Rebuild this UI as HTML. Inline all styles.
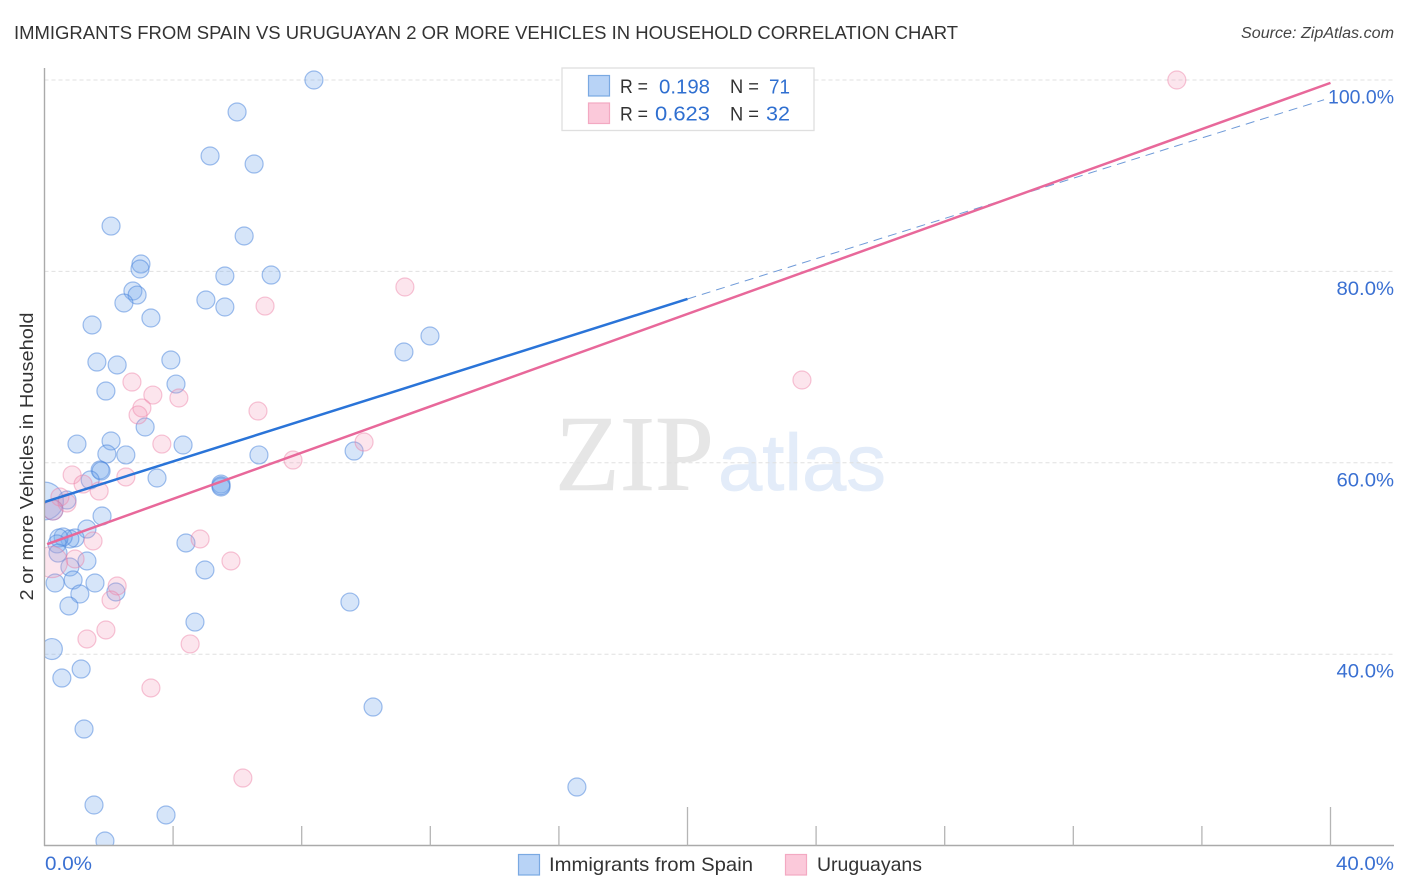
<!DOCTYPE html>
<html lang="en">
<head>
<meta charset="utf-8">
<title>Immigrants from Spain vs Uruguayan 2 or more Vehicles in Household Correlation Chart</title>
<style>
html,body{margin:0;padding:0;background:#fff;width:1406px;height:892px;overflow:hidden}
svg{display:block;font-family:"Liberation Sans",sans-serif}
</style>
</head>
<body>
<svg id="chart" xmlns="http://www.w3.org/2000/svg" width="1406" height="892" viewBox="0 0 1406 892">
  <defs>
    <clipPath id="plot-clip"><rect x="45" y="60" width="1350" height="785.5"/></clipPath>
  </defs>
  <text x="14" y="39" font-size="18.5" fill="#333" textLength="944" lengthAdjust="spacingAndGlyphs">IMMIGRANTS FROM SPAIN VS URUGUAYAN 2 OR MORE VEHICLES IN HOUSEHOLD CORRELATION CHART</text>
  <text x="1394" y="38" font-size="15.5" font-style="italic" fill="#444" text-anchor="end" textLength="153" lengthAdjust="spacingAndGlyphs">Source: ZipAtlas.com</text>

  <g>
    <text x="555" y="490" font-family="'Liberation Serif',serif" font-size="108" fill="#e6e6e6" stroke="#e6e6e6" stroke-width="0.6" textLength="159" lengthAdjust="spacingAndGlyphs">ZIP</text>
    <text x="718" y="490" font-family="'Liberation Sans',sans-serif" font-size="80" fill="#e3ecf9" stroke="#e3ecf9" stroke-width="0.8" textLength="168" lengthAdjust="spacingAndGlyphs">atlas</text>
  </g>

  <g id="grid"></g>
  <g id="points" clip-path="url(#plot-clip)"></g>
  <g id="trends"></g>
  <g id="axes"></g>

  <text transform="translate(33,456.5) rotate(-90)" font-size="18.5" fill="#333" text-anchor="middle" textLength="288" lengthAdjust="spacingAndGlyphs">2 or more Vehicles in Household</text>

  <g>
    <rect x="562" y="68" width="252" height="62.5" fill="#fff" stroke="#dfdfdf" stroke-width="1.3"/>
    <rect x="588.5" y="75.5" width="21" height="20.5" fill="#b8d3f6" stroke="#7aa9e2" stroke-width="1.2"/>
    <rect x="588.5" y="103" width="21" height="20.5" fill="#fbc9da" stroke="#f3a9c2" stroke-width="1.2"/>
    <text x="620" y="93" font-size="19" fill="#333" textLength="28" lengthAdjust="spacingAndGlyphs">R =</text>
    <text x="659" y="93.5" font-size="20.5" fill="#2f6fd0" textLength="51" lengthAdjust="spacingAndGlyphs">0.198</text>
    <text x="730" y="93" font-size="19" fill="#333" textLength="29" lengthAdjust="spacingAndGlyphs">N =</text>
    <text x="769" y="93.5" font-size="20.5" fill="#2f6fd0" textLength="21" lengthAdjust="spacingAndGlyphs">71</text>
    <text x="620" y="120.5" font-size="19" fill="#333" textLength="28" lengthAdjust="spacingAndGlyphs">R =</text>
    <text x="655" y="120.5" font-size="20.5" fill="#2f6fd0" textLength="55" lengthAdjust="spacingAndGlyphs">0.623</text>
    <text x="730" y="120.5" font-size="19" fill="#333" textLength="29" lengthAdjust="spacingAndGlyphs">N =</text>
    <text x="766" y="120.5" font-size="20.5" fill="#2f6fd0" textLength="24" lengthAdjust="spacingAndGlyphs">32</text>
  </g>

  <g>
    <rect x="518.5" y="854.5" width="21" height="20.5" fill="#b8d3f6" stroke="#7aa9e2" stroke-width="1.2"/>
    <text x="549" y="871" font-size="19.5" fill="#333" textLength="204" lengthAdjust="spacingAndGlyphs">Immigrants from Spain</text>
    <rect x="785.5" y="854.5" width="21" height="20.5" fill="#fbc9da" stroke="#f3a9c2" stroke-width="1.2"/>
    <text x="817" y="871" font-size="19.5" fill="#333" textLength="105" lengthAdjust="spacingAndGlyphs">Uruguayans</text>
  </g>
</svg>
<script>
const spainX = [8.38,5.99,5.15,6.52,2.07,6.21,3.00,2.97,5.61,7.05,2.75,2.88,2.47,5.02,5.61,3.31,1.48,11.99,11.18,1.63,3.93,2.26,1.91,4.09,3.13,1.01,2.07,4.31,1.94,2.53,6.67,9.63,1.73,1.76,3.50,1.42,5.49,5.49,5.49,0.70,0.00,0.26,1.79,1.32,0.95,0.79,0.58,0.45,0.39,0.42,4.40,1.32,4.99,0.79,0.89,0.33,1.57,2.22,1.10,0.76,9.50,4.68,0.23,1.14,0.54,10.22,1.23,16.56,1.54,3.78,1.88];
const spainY = [100,96.66,92.06,91.22,84.74,83.70,80.77,80.25,79.52,79.62,77.95,77.53,76.70,77.01,76.28,75.13,74.40,73.25,71.58,70.53,70.74,70.22,67.50,68.23,63.74,61.96,62.28,61.86,60.92,60.82,60.82,61.23,59.25,59.14,58.41,58.20,57.78,57.47,57.60,56.11,56.01,55.07,54.44,53.08,52.14,52.04,52.25,52.14,51.52,50.57,51.62,49.74,48.80,49.11,47.75,47.44,47.44,46.50,46.29,45.04,45.45,43.36,40.54,38.45,37.51,34.48,32.18,26.12,24.24,23.20,20.48];
const spainWeight = [1,1,1,1,1,1,1,1,1,1,1,1,1,1,1,1,1,1,1,1,1,1,1,1,1,1,1,1,1,1,1,1,1,1,1,1,1,1,1,1,4.4,1.25,1,1,1,1,1,1,1,1,1,1,1,1,1,1,1,1,1,1,1,1,1.35,1,1,1,1,1,1,1,1];

const uruguayX = [0.86,1.20,1.70,2.53,0.48,0.70,0.26,1.51,0.95,0.23,2.26,2.07,1.91,1.32,4.53,4.84,5.80,3.31,35.22,11.21,6.86,23.56,2.72,3.37,4.18,3.03,2.91,6.64,3.65,9.94,7.73,6.17];
const uruguayY = [58.73,57.78,57.05,58.52,56.43,55.80,55.07,51.83,49.95,49.63,47.13,45.66,42.53,41.59,41.07,52.04,49.74,36.47,100,78.37,76.38,68.65,68.44,67.08,66.77,65.73,65.00,65.41,61.96,62.17,60.29,27.06];
const uruguayWeight = [1,1,1,1,1,1,1.25,1,1,3,1,1,1,1,1,1,1,1,1,1,1,1,1,1,1,1,1,1,1,1,1,1];

const spainTrendX = [0, 20];
const spainTrendY = [55.9, 77.12];
const spainDashX = [20, 39.8];
const spainDashY = [77.12, 97.94];
const uruguayTrendX = [0.08, 40];
const uruguayTrendY = [51.5, 99.7];

const yTicks = [100, 80, 60, 40];
const yTickLabels = ["100.0%", "80.0%", "60.0%", "40.0%"];
const xTicks = [0,4,8,12,16,20,24,28,32,36,40];
const xTickLabels = ["0.0%", "40.0%"];

const NS = 'http://www.w3.org/2000/svg';
const xScale = v => 44.5 + v * 32.15;
const yScale = v => 80 + (100 - v) * 9.57;
const mk = (tag, parent, attrs) => {
  const el = document.createElementNS(NS, tag);
  for (const k in attrs) el.setAttribute(k, attrs[k]);
  parent.appendChild(el);
  return el;
};

const grid = document.getElementById('grid');
const axes = document.getElementById('axes');
const points = document.getElementById('points');
const trends = document.getElementById('trends');

yTicks.forEach((t, i) => {
  const line = mk('line', grid, {x1: 44.5, x2: 1394, y1: yScale(t), y2: yScale(t), stroke: '#e0e0e0', 'stroke-width': 1, 'stroke-dasharray': '4 3'});
  
  
  const label = mk('text', axes, {x: 1394, y: yScale(t) + 23.5, 'font-size': 19.5, fill: '#3a70d2', 'text-anchor': 'end', textLength: yTickLabels[i].length * 8.5 + 15, lengthAdjust: 'spacingAndGlyphs'});
  
  
  label.textContent = yTickLabels[i];
});

const yAxis = mk('line', axes, {x1: 44.5, x2: 44.5, y1: 68, y2: 846, stroke: '#aaa', 'stroke-width': 1.4});


const xAxis = mk('line', axes, {x1: 44, x2: 1394, y1: 845.5, y2: 845.5, stroke: '#aaa', 'stroke-width': 1.4});



xTicks.forEach((t, i) => {
  if (i === 0) return;
  const tall = t === 20 || t === 40;
  const tick = mk('line', axes, {x1: xScale(t), x2: xScale(t), y1: tall ? 807 : 826, y2: 845.5, stroke: '#b5b5b5', 'stroke-width': 1.3});
  
  
});

const xLabelStart = mk('text', axes, {x: 45, y: 870, 'font-size': 19.5, fill: '#3a70d2', textLength: 47, lengthAdjust: 'spacingAndGlyphs'});


xLabelStart.textContent = xTickLabels[0];
const xLabelEnd = mk('text', axes, {x: 1394, y: 870, 'font-size': 19.5, fill: '#3a70d2', 'text-anchor': 'end', textLength: 58, lengthAdjust: 'spacingAndGlyphs'});


xLabelEnd.textContent = xTickLabels[1];

spainX.forEach((v, i) => {
  const c = mk('circle', points, {cx: xScale(v), cy: yScale(spainY[i]), r: 9 * Math.sqrt(spainWeight[i]), fill: 'rgba(120,170,235,0.30)', stroke: 'rgba(70,130,220,0.50)', 'stroke-width': 1.2});
  
  
});
uruguayX.forEach((v, i) => {
  const c = mk('circle', points, {cx: xScale(v), cy: yScale(uruguayY[i]), r: 9 * Math.sqrt(uruguayWeight[i]), fill: 'rgba(245,150,185,0.25)', stroke: 'rgba(235,120,160,0.42)', 'stroke-width': 1.2});
  
  
});

const dash = mk('line', trends, {x1: xScale(spainDashX[0]), y1: yScale(spainDashY[0]), x2: xScale(spainDashX[1]), y2: yScale(spainDashY[1]), stroke: '#6f9ad8', 'stroke-width': 1, 'stroke-dasharray': '9 6'});


const blueLine = mk('line', trends, {x1: xScale(spainTrendX[0]), y1: yScale(spainTrendY[0]), x2: xScale(spainTrendX[1]), y2: yScale(spainTrendY[1]), stroke: '#2a74d8', 'stroke-width': 2.5});


const pinkLine = mk('line', trends, {x1: xScale(uruguayTrendX[0]), y1: yScale(uruguayTrendY[0]), x2: xScale(uruguayTrendX[1]), y2: yScale(uruguayTrendY[1]), stroke: '#e8689a', 'stroke-width': 2.5});


</script>
</body>
</html>
